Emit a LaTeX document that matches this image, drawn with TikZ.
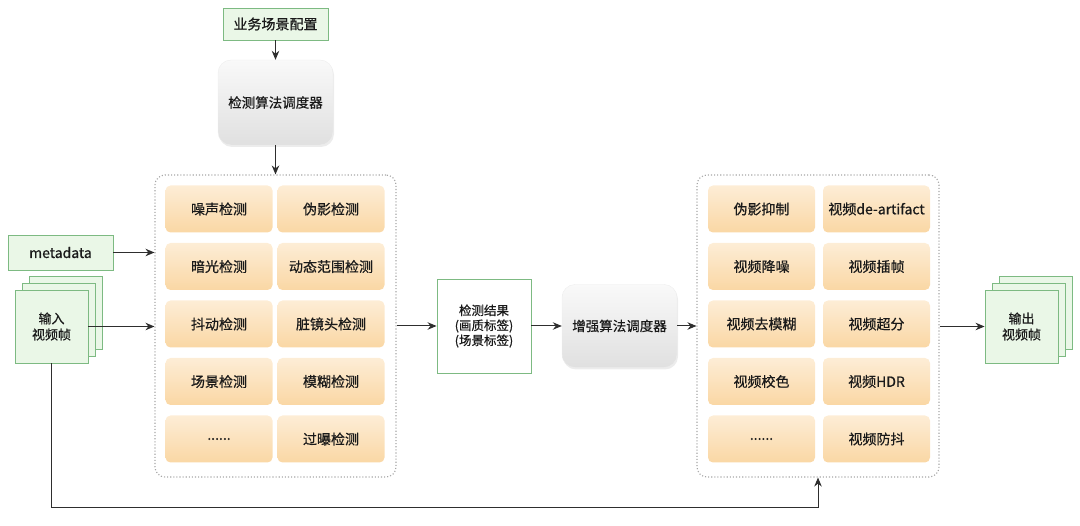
\documentclass[tikz,border=0pt]{standalone}
\usepackage{fontspec}
\newfontfamily\cjk[FakeBold=0.6]{Noto Sans CJK SC}
\usepackage{tikz}
\usetikzlibrary{arrows.meta,shadows}
\definecolor{peachtop}{HTML}{FDEDD6}
\definecolor{peachbot}{HTML}{FAD7A4}
\definecolor{mint}{HTML}{EAF7E7}
\definecolor{mintdark}{HTML}{7DBA82}
\definecolor{greytop}{HTML}{F9F9F9}
\definecolor{greybot}{HTML}{E0E0E0}
\definecolor{wire}{HTML}{2E2E2E}
\definecolor{dots}{HTML}{A6A6A6}
\definecolor{ink}{HTML}{1A1A1A}
\newcommand{\moredots}{......}

\tikzset{
  cell/.style={rounded corners=5pt,top color=peachtop,bottom color=peachbot,
    minimum width=107pt,minimum height=47pt,inner sep=0pt,text=ink,
    font=\cjk\fontsize{14}{17}\selectfont},
  sched/.style={rounded corners=13pt,top color=greytop,bottom color=greybot,
    draw=black!7,minimum width=115pt,inner sep=0pt,text=ink,
    drop shadow={opacity=0.15,shadow xshift=1pt,shadow yshift=-2pt},
    font=\cjk\fontsize{13.5}{16}\selectfont},
  mintbox/.style={fill=mint,draw=mintdark,line width=0.9pt,inner sep=0pt,
    text=ink,align=center,font=\cjk\fontsize{14}{17}\selectfont},
  frame/.style={draw=dots,dotted,line width=1.1pt,rounded corners=10pt,
    minimum width=241pt,minimum height=302pt},
  arr/.style={draw=wire,line width=1pt,-{Stealth[length=9pt,width=7.5pt]}},
}

\begin{document}
\begin{tikzpicture}[x=1pt,y=-1pt]
\useasboundingbox (0,0) rectangle (1080,526);
% top: config and detection scheduler
\node[mintbox,minimum width=105pt,minimum height=32pt] (config) at (275.5,24) {业务场景配置};
\node[sched,minimum height=85pt] (detsched) at (275.5,102.5) {检测算法调度器};

% detection group
\node[frame] (detbox) at (275.5,326) {};
\foreach \r/\a/\b in {1/噪声检测/伪影检测,2/暗光检测/动态范围检测,3/抖动检测/脏镜头检测,4/场景检测/模糊检测,5/\moredots/过曝检测} {
  \node[cell] (det-\r-l) at (219,{151.5+57.5*\r}) {\a};
  \node[cell] (det-\r-r) at (331,{151.5+57.5*\r}) {\b};
}

% inputs
\node[mintbox,minimum width=105pt,minimum height=35pt] (meta) at (60.5,252.5) {metadata};
\node[mintbox,minimum width=73pt,minimum height=73pt] (in3) at (65.5,312.5) {};
\node[mintbox,minimum width=73pt,minimum height=73pt] (in2) at (58.5,319.5) {};
\node[mintbox,minimum width=73pt,minimum height=73pt,font=\cjk\fontsize{13}{16}\selectfont] (in1) at (51.5,326.5) {输入\\视频帧};

% result and enhancement scheduler
\node[mintbox,fill=white,minimum width=94pt,minimum height=94pt,font=\cjk\fontsize{12.5}{15}\selectfont] (result) at (484,326) {检测结果\\(画质标签)\\(场景标签)};
\node[sched,minimum height=83pt] (enhsched) at (619.5,326) {增强算法调度器};

% enhancement group
\node[frame,minimum width=242pt] (enhbox) at (818,326) {};
\foreach \r/\a/\b in {1/伪影抑制/视频de-artifact,2/视频降噪/视频插帧,3/视频去模糊/视频超分,4/视频校色/视频HDR,5/\moredots/视频防抖} {
  \node[cell] (enh-\r-l) at (761.5,{151.5+57.5*\r}) {\a};
  \node[cell] (enh-\r-r) at (876.5,{151.5+57.5*\r}) {\b};
}

% outputs
\node[mintbox,minimum width=73pt,minimum height=73pt] (out3) at (1035.5,312.5) {};
\node[mintbox,minimum width=73pt,minimum height=73pt] (out2) at (1028.5,319.5) {};
\node[mintbox,minimum width=73pt,minimum height=73pt,font=\cjk\fontsize{13}{16}\selectfont] (out1) at (1021.5,326.5) {输出\\视频帧};

% connectors
\draw[arr] (config) -- (detsched);
\draw[arr] (detsched) -- (detbox);
\draw[arr] (meta.east) -- (meta.east -| detbox.west);
\draw[arr] (in1.east) -- (in1.east -| detbox.west);
\draw[arr] (detbox.east |- result.west) -- (result.west);
\draw[arr] (result) -- (enhsched);
\draw[arr] (enhsched) -- (enhsched.east -| enhbox.west);
\draw[arr] (enhbox.east |- out1.west) -- (out1.west);
\draw[arr] (in1.south) |- ([yshift=-30pt]enhbox.south) -- (enhbox.south);
\end{tikzpicture}
\end{document}
